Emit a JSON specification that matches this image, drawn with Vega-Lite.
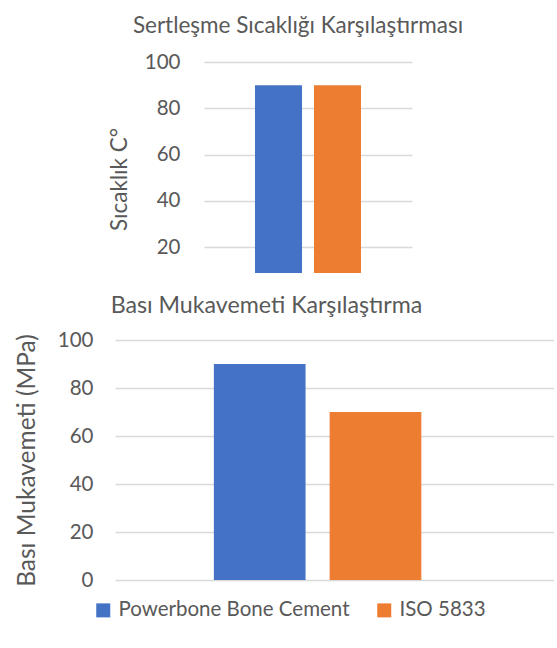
{
  "$schema": "https://vega.github.io/schema/vega-lite/v6.json",
  "background": "white",
  "padding": {"left": 14, "top": 14, "right": 0, "bottom": 0},
  "config": {
    "font": "Lato",
    "view": {"stroke": null},
    "axis": {
      "labelFont": "Lato", "labelFontSize": 20.5, "labelColor": "#595959",
      "titleFont": "Lato", "titleFontWeight": "normal", "titleColor": "#595959",
      "gridColor": "#D9D9D9", "gridWidth": 1.3, "domain": false, "ticks": false
    },
    "title": {"font": "Lato", "fontSize": 22.5, "fontWeight": "normal", "color": "#595959", "baseline": "alphabetic"},
    "legend": {"labelFont": "Lato", "labelFontSize": 20.5, "labelColor": "#595959"}
  },
  "datasets": {
    "sicaklik": [
      {"series": "Powerbone Bone Cement", "value": 90},
      {"series": "ISO 5833", "value": 90}
    ],
    "basi": [
      {"series": "Powerbone Bone Cement", "value": 90},
      {"series": "ISO 5833", "value": 70}
    ],
    "bos": [{"k": 0}]
  },
  "spacing": 20,
  "resolve": {
    "scale": {"color": "independent", "x": "independent", "y": "independent"},
    "legend": {"color": "independent"}
  },
  "vconcat": [
    {
      "spacing": -8,
      "hconcat": [
        {
          "width": 1,
          "height": 1,
          "data": {"name": "bos"},
          "mark": {"type": "text", "text": "", "fontSize": 1},
          "encoding": {}
        },
        {
          "width": 208,
          "height": 211,
          "title": {"text": "Sertleşme Sıcaklığı Karşılaştırması", "anchor": "middle", "dx": -10, "offset": 15},
          "data": {"name": "sicaklik"},
          "mark": {"type": "bar", "clip": true},
          "encoding": {
            "x": {"field": "series", "type": "nominal", "sort": null, "axis": null,
                  "scale": {"paddingInner": 0.203, "paddingOuter": 0.864, "align": 0.5}},
            "y": {"field": "value", "type": "quantitative",
                  "scale": {"domain": [8.8, 100], "zero": false, "nice": false},
                  "axis": {"title": "Sıcaklık C°", "titleFontSize": 22.5,
                           "values": [20, 40, 60, 80, 100],
                           "labelPadding": 24, "titlePadding": 13, "titleY": 117}},
            "color": {"field": "series", "type": "nominal", "sort": null,
                      "scale": {"domain": ["Powerbone Bone Cement", "ISO 5833"], "range": ["#4472C4", "#ED7D31"]},
                      "legend": null}
          }
        }
      ]
    },
    {
      "width": 439,
      "height": 240,
      "title": {"text": "Bası Mukavemeti Karşılaştırma", "anchor": "middle", "dx": -68, "offset": 12, "fontSize": 23.2},
      "data": {"name": "basi"},
      "mark": {"type": "bar"},
      "encoding": {
        "x": {"field": "series", "type": "nominal", "sort": null, "axis": null,
              "scale": {"paddingInner": 0.208, "paddingOuter": 1.0045, "align": 0.427}},
        "y": {"field": "value", "type": "quantitative",
              "scale": {"domain": [0, 100], "nice": false},
              "axis": {"title": "Bası Mukavemeti (MPa)", "titleFontSize": 24.5, "values": [0, 20, 40, 60, 80, 100],
                       "labelPadding": 22, "titlePadding": 18}},
        "color": {"field": "series", "type": "nominal", "sort": null,
                  "scale": {"domain": ["Powerbone Bone Cement", "ISO 5833"], "range": ["#4472C4", "#ED7D31"]},
                  "legend": {"orient": "none", "direction": "horizontal", "legendX": -22, "legendY": 260,
                             "title": null, "symbolType": "square", "symbolSize": 196, "symbolStrokeWidth": 0,
                             "symbolOpacity": 1, "labelOffset": 5, "columnPadding": 24, "labelLimit": 0}}
      }
    }
  ]
}
